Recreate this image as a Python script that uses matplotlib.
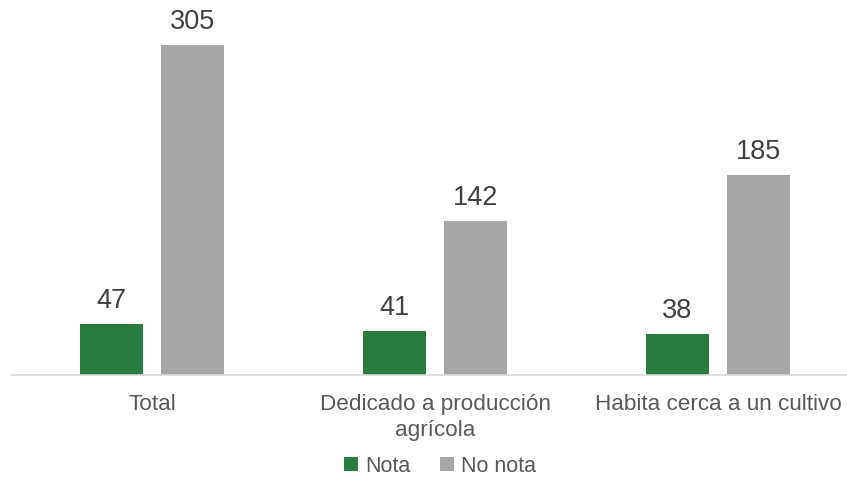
import numpy as np
import matplotlib
matplotlib.use("Agg")
import matplotlib.pyplot as plt

categories = ["Total", "Dedicado a producción\nagrícola", "Habita cerca a un cultivo"]
nota = [47, 41, 38]
no_nota = [305, 142, 185]

plt.rcParams["font.family"] = ["Liberation Sans", "DejaVu Sans"]

fig = plt.figure(figsize=(8.47, 4.85), dpi=100)
ax = fig.add_axes([10.5 / 847, 109 / 485, 849 / 847, 376 / 485])

x = np.arange(len(categories))
w = 0.223
off = 0.144
b1 = ax.bar(x - off, nota, w, color="#2a7b3f", label="Nota")
b2 = ax.bar(x + off, no_nota, w, color="#a6a6a6", label="No nota")

for bars in (b1, b2):
    for r in bars:
        ax.annotate(str(int(r.get_height())), (r.get_x() + r.get_width() / 2, r.get_height()),
                    xytext=(0, 8), textcoords="offset points", ha="center", va="bottom",
                    fontsize=19.5, color="#404040")

ax.set_xlim(-0.5, 2.5)
ax.set_ylim(0, 347.5)
ax.set_xticks(x)
ax.set_xticklabels(categories, fontsize=16.2, color="#595959", linespacing=1.3)
ax.tick_params(axis="x", length=0, pad=13)
ax.set_yticks([])
for s in ["top", "right", "left"]:
    ax.spines[s].set_visible(False)
ax.spines["bottom"].set_color("#d9d9d9")
ax.spines["bottom"].set_linewidth(1.2)

fig.legend(handles=[b1, b2], loc="center", bbox_to_anchor=(440 / 847, 18 / 485), ncol=2,
           frameon=False, fontsize=15.5, handlelength=0.65, handleheight=0.65,
           handletextpad=0.3, columnspacing=1.4, labelcolor="#595959")

fig.savefig("out.png", dpi=100)
